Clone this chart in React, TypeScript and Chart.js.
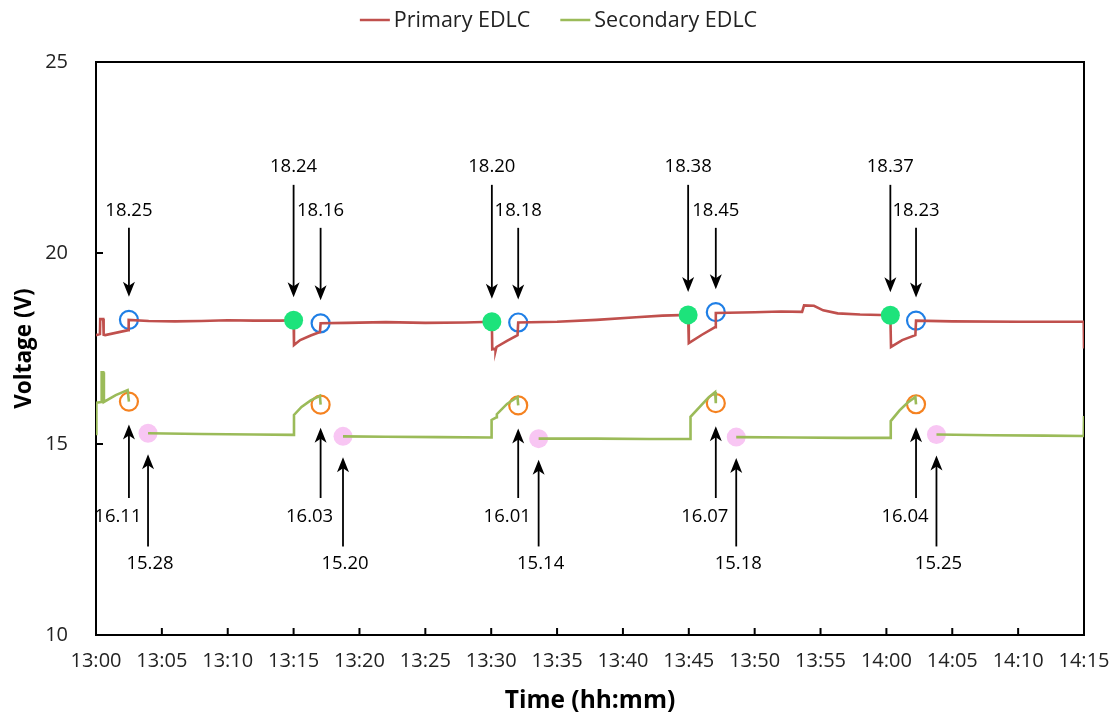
import React, { useEffect, useRef } from 'react';
import { Chart, registerables } from 'chart.js';

Chart.register(...registerables);

// ---- data (x = minutes after 13:00) ----
const xTickLabels = ['13:00', '13:05', '13:10', '13:15', '13:20', '13:25', '13:30', '13:35', '13:40', '13:45', '13:50', '13:55', '14:00', '14:05', '14:10', '14:15'];
const yTickValues = [10, 15, 20, 25];

const primaryTimes = [0, 0.3, 0.32, 0.55, 0.58, 0.7, 2.45, 2.48, 4, 6, 8, 10, 12, 14, 15.0, 15.03, 15.5, 16.3, 17.0, 17.05, 19, 22, 25, 28, 30.05, 30.08, 30.3, 30.33, 30.4, 31.2, 32.0, 32.05, 35, 38, 41, 43, 44.95, 45.0, 46.0, 47.0, 47.05, 50, 52, 53.6, 53.75, 54.5, 55.2, 56.3, 58, 60.3, 60.35, 61.2, 62.2, 62.25, 65, 70, 74.98, 75];
const primaryVolts = [17.85, 17.88, 18.27, 18.27, 17.86, 17.85, 17.98, 18.25, 18.22, 18.21, 18.22, 18.24, 18.23, 18.23, 18.24, 17.59, 17.72, 17.84, 17.93, 18.16, 18.17, 18.19, 18.17, 18.18, 18.2, 17.48, 17.5, 17.44, 17.54, 17.7, 17.85, 18.18, 18.2, 18.25, 18.32, 18.36, 18.38, 17.64, 17.86, 18.06, 18.43, 18.45, 18.47, 18.46, 18.63, 18.62, 18.5, 18.42, 18.39, 18.37, 17.54, 17.72, 17.85, 18.23, 18.21, 18.2, 18.2, 17.5];

const secondaryTimes = [0, 0.03, 0.4, 0.43, 0.55, 0.6, 1.5, 2.4, 2.5, 3.2, 3.95, 8, 12, 15.0, 15.03, 15.6, 16.3, 17.0, 17.05, 17.9, 18.75, 22, 26, 30.0, 30.03, 30.4, 30.43, 31.2, 32.0, 32.05, 32.8, 33.6, 38, 42, 45.1, 45.13, 45.9, 46.5, 47.0, 47.05, 47.8, 48.6, 53, 57, 60.3, 60.33, 61.0, 61.6, 62.2, 62.25, 63.0, 63.8, 68, 72, 74.98, 75];
const secondaryVolts = [15.26, 16.08, 16.1, 16.88, 16.88, 16.1, 16.28, 16.41, 16.11, null, 15.28, 15.26, 15.25, 15.24, 15.76, 15.97, 16.14, 16.26, 16.03, null, 15.2, 15.19, 15.18, 15.17, 15.63, 15.7, 15.78, 16.05, 16.23, 16.01, null, 15.14, 15.14, 15.13, 15.13, 15.71, 16.0, 16.22, 16.36, 16.07, null, 15.18, 15.17, 15.16, 15.16, 15.6, 15.88, 16.08, 16.23, 16.04, null, 15.25, 15.23, 15.22, 15.21, 15.73];

const readoutTimes = [2.5, 17.05, 32.05, 47.05, 62.25];
const primaryReadout = [18.25, 18.16, 18.18, 18.45, 18.23];
const secondaryReadout = [16.11, 16.03, 16.01, 16.07, 16.04];
const dropTimes = [15.0, 30.05, 44.95, 60.3];
const primaryBeforeDrop = [18.24, 18.2, 18.38, 18.37];
const restTimes = [3.95, 18.75, 33.6, 48.6, 63.8];
const secondaryRest = [15.28, 15.2, 15.14, 15.18, 15.25];

const RED = '#c0504d';
const GREEN = '#9bbb59';
const FONT = '"Open Sans", "Noto Sans", sans-serif';

const pts = (xs: number[], ys: (number | null)[]) => xs.map((x, i) => ({ x, y: ys[i] }));

// anchor: level the label row is aligned to; tip offset is relative to each marker
const annotationGroups = [
  { times: readoutTimes, vals: primaryReadout, anchor: 18.25, tipDy: -23, tailDy: -92, textDy: -109, textDx: 0 },
  { times: dropTimes, vals: primaryBeforeDrop, anchor: 18.25, tipDy: -23, tailDy: -135, textDy: -153, textDx: 0 },
  { times: readoutTimes, vals: secondaryReadout, anchor: 16.1, tipDy: 23, tailDy: 96, textDy: 115, textDx: -11 },
  { times: restTimes, vals: secondaryRest, anchor: 15.25, tipDy: 21, tailDy: 112, textDy: 129, textDx: 2 },
];

function drawArrow(ctx: CanvasRenderingContext2D, x: number, yTail: number, yTip: number) {
  const dir = Math.sign(yTip - yTail);
  ctx.beginPath();
  ctx.moveTo(x, yTail);
  ctx.lineTo(x, yTip - dir * 9);
  ctx.stroke();
  ctx.beginPath();
  ctx.moveTo(x, yTip);
  ctx.lineTo(x - 6, yTip - dir * 15);
  ctx.lineTo(x, yTip - dir * 11);
  ctx.lineTo(x + 6, yTip - dir * 15);
  ctx.closePath();
  ctx.fill();
}

const framePlugin = {
  id: 'frame',
  beforeDatasetsDraw(chart: any) {
    const { ctx, chartArea: a, scales } = chart;
    ctx.save();
    ctx.strokeStyle = '#000';
    ctx.lineWidth = 2;
    ctx.strokeRect(a.left, a.top, a.right - a.left, a.bottom - a.top);
    ctx.beginPath();
    xTickLabels.forEach((_, i) => {
      const px = scales.x.getPixelForValue(i * 5);
      ctx.moveTo(px, a.bottom);
      ctx.lineTo(px, a.bottom - 7);
    });
    yTickValues.forEach((v) => {
      const py = scales.y.getPixelForValue(v);
      ctx.moveTo(a.left, py);
      ctx.lineTo(a.left + 7, py);
    });
    ctx.stroke();
    ctx.restore();
  },
  afterDatasetsDraw(chart: any) {
    const { ctx, scales } = chart;
    ctx.save();
    ctx.strokeStyle = '#000';
    ctx.fillStyle = '#000';
    ctx.lineWidth = 1.8;
    ctx.font = '18.5px ' + FONT;
    ctx.textAlign = 'center';
    ctx.textBaseline = 'middle';
    annotationGroups.forEach((g) => {
      const ay = scales.y.getPixelForValue(g.anchor);
      g.times.forEach((t, i) => {
        const px = scales.x.getPixelForValue(t);
        const py = scales.y.getPixelForValue(g.vals[i]);
        drawArrow(ctx, px, ay + g.tailDy, py + g.tipDy);
        ctx.fillText(g.vals[i].toFixed(2), px + g.textDx, ay + g.textDy);
      });
    });
    ctx.restore();
  },
  afterDraw(chart: any) {
    const { ctx } = chart;
    const items = [
      { label: 'Primary EDLC', color: RED },
      { label: 'Secondary EDLC', color: GREEN },
    ];
    ctx.save();
    ctx.font = '21.5px ' + FONT;
    const lineW = 30, gap = 4, between = 30;
    const widths = items.map((it) => lineW + gap + ctx.measureText(it.label).width);
    const total = widths.reduce((s, w) => s + w, 0) + between * (items.length - 1);
    let x = chart.width / 2 - total / 2;
    const y = 20;
    ctx.textBaseline = 'middle';
    ctx.textAlign = 'left';
    items.forEach((it, i) => {
      ctx.strokeStyle = it.color;
      ctx.lineWidth = 2.5;
      ctx.beginPath();
      ctx.moveTo(x, y);
      ctx.lineTo(x + lineW, y);
      ctx.stroke();
      ctx.fillStyle = '#222';
      ctx.fillText(it.label, x + lineW + gap, y + 1);
      x += widths[i] + between;
    });
    ctx.restore();
  },
};

export default function App() {
  const ref = useRef<HTMLCanvasElement>(null);
  useEffect(() => {
    document.body.style.margin = '0';
    const chart = new Chart(ref.current as HTMLCanvasElement, {
      type: 'line',
      data: {
        datasets: [
          {
            label: 'Before drop',
            data: pts(dropTimes, primaryBeforeDrop),
            showLine: false,
            pointRadius: 9.5,
            pointBorderWidth: 0,
            pointBackgroundColor: '#1de37b',
            order: 0,
          } as any,
          {
            label: 'Primary EDLC',
            data: pts(primaryTimes, primaryVolts),
            borderColor: RED,
            borderWidth: 2.6,
            pointRadius: 0,
            tension: 0,
            order: 1,
          },
          {
            label: 'Secondary EDLC',
            data: pts(secondaryTimes, secondaryVolts),
            borderColor: GREEN,
            borderWidth: 2.6,
            pointRadius: 0,
            tension: 0,
            spanGaps: false,
            order: 1,
          },
          {
            label: 'Primary readout',
            data: pts(readoutTimes, primaryReadout),
            showLine: false,
            pointRadius: 9,
            pointBorderWidth: 2.2,
            pointBorderColor: '#1f7fe6',
            pointBackgroundColor: 'rgba(0,0,0,0)',
            order: 2,
          } as any,
          {
            label: 'Secondary readout',
            data: pts(readoutTimes, secondaryReadout),
            showLine: false,
            pointRadius: 9,
            pointBorderWidth: 2.2,
            pointBorderColor: '#f58220',
            pointBackgroundColor: 'rgba(0,0,0,0)',
            order: 2,
          } as any,
          {
            label: 'Rest',
            data: pts(restTimes, secondaryRest),
            showLine: false,
            pointRadius: 9.5,
            pointBorderWidth: 0,
            pointBackgroundColor: '#f8c6f3',
            order: 2,
          } as any,
        ],
      },
      options: {
        responsive: false,
        animation: false,
        layout: { padding: { top: 62, right: 33, left: 0, bottom: 0 } },
        plugins: { legend: { display: false }, tooltip: { enabled: false } },
        scales: {
          x: {
            type: 'linear',
            min: 0,
            max: 75,
            grid: { display: false, drawTicks: false },
            border: { display: false },
            afterFit: (s: any) => { s.height = 82; s.paddingLeft = 0; s.paddingRight = 0; },
            ticks: {
              stepSize: 5,
              padding: 14,
              color: '#222',
              font: { family: FONT, size: 20 },
              maxRotation: 0,
              autoSkip: false,
              callback: (v: any) => xTickLabels[Math.round(Number(v) / 5)],
            },
            title: {
              display: true,
              text: 'Time (hh:mm)',
              color: '#000',
              font: { family: FONT, size: 24.5, weight: 'bold' },
              padding: { top: 0, bottom: 1 },
            },
          },
          y: {
            min: 10,
            max: 25,
            grid: { display: false, drawTicks: false },
            border: { display: false },
            afterFit: (s: any) => { s.width = 96; },
            ticks: {
              stepSize: 5,
              padding: 28,
              color: '#222',
              font: { family: FONT, size: 20 },
            },
            title: {
              display: true,
              text: 'Voltage (V)',
              color: '#000',
              font: { family: FONT, size: 22.5, weight: 'bold' },
              padding: { top: 11, bottom: 0 },
            },
          },
        },
      } as any,
      plugins: [framePlugin],
    });
    return () => chart.destroy();
  }, []);
  return (
    <div style={{ width: 1117, height: 717 }}>
      <canvas ref={ref} width={1117} height={717} style={{ display: 'block' }} />
    </div>
  );
}
